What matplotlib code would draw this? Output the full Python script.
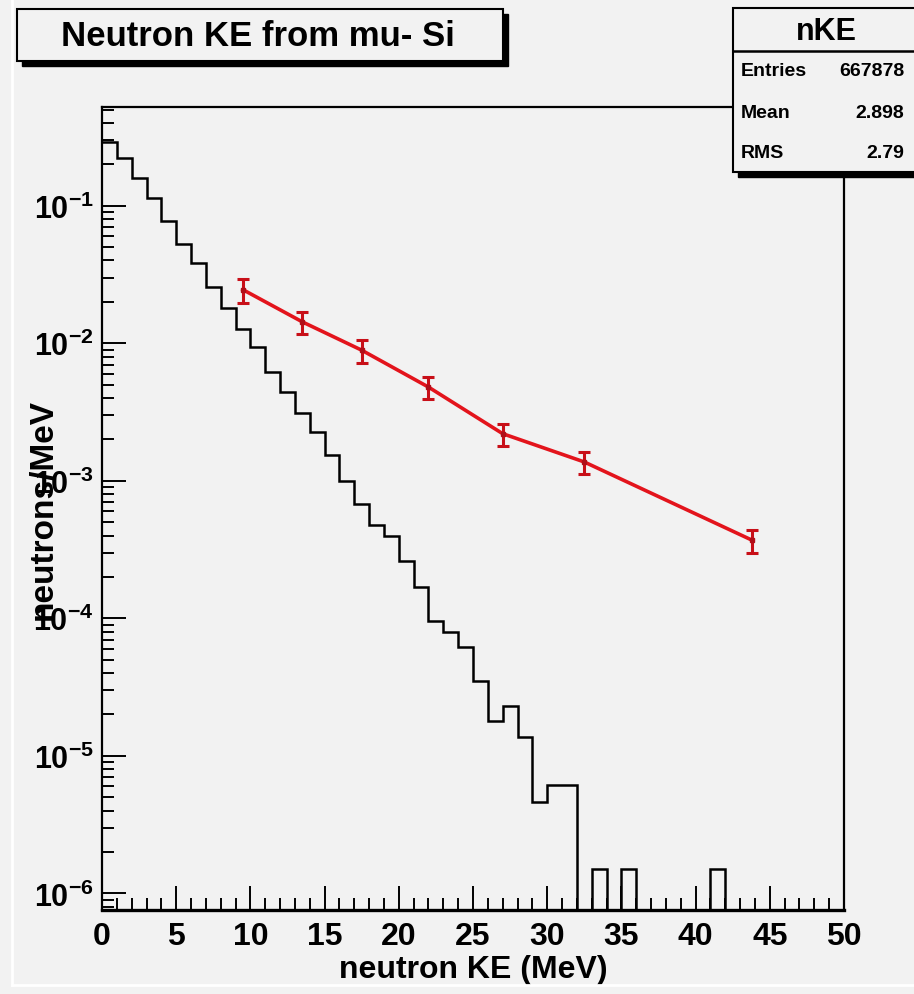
import numpy as np
import matplotlib
matplotlib.use("Agg")
import matplotlib.pyplot as plt
from matplotlib.patches import Rectangle
from matplotlib.lines import Line2D
from matplotlib.ticker import MultipleLocator, LogLocator, FuncFormatter, NullFormatter

plt.rcParams['font.family'] = ['Liberation Sans', 'DejaVu Sans']
plt.rcParams['font.weight'] = 'bold'
plt.rcParams['mathtext.fontset'] = 'custom'
plt.rcParams['mathtext.rm'] = 'Liberation Sans:bold'
plt.rcParams['mathtext.bf'] = 'Liberation Sans:bold'

# histogram: neutron KE spectrum, 1 MeV bins from 0 to 50 (neutrons/MeV)
bin_edges = np.arange(0, 51, 1)
spectrum = [0.29, 0.222, 0.159, 0.114, 0.078, 0.053, 0.038, 0.0256, 0.018, 0.0127,
            0.0094, 0.0062, 0.0044, 0.0031, 0.00226, 0.00153, 0.00100, 0.00068, 0.00048, 0.000396,
            0.00026, 0.000169, 9.6e-5, 7.9e-5, 6.2e-5, 3.5e-5, 1.8e-5, 2.3e-5, 1.37e-5, 4.6e-6,
            6.1e-6, 6.1e-6, 0, 1.5e-6, 0, 1.5e-6, 0, 0, 0, 0,
            0, 1.5e-6, 0, 0, 0, 0, 0, 0, 0, 0]

# red points with error bars
meas_ke = [9.5, 13.5, 17.5, 22.0, 27.0, 32.5, 43.8]
meas_val = [0.0245, 0.0143, 0.0089, 0.0048, 0.0022, 0.00137, 0.00037]
meas_err = [0.005, 0.0026, 0.0017, 0.0009, 0.0004, 0.00025, 0.00007]

stats_names = ["Entries", "Mean", "RMS"]
stats_vals = ["667878", "2.898", "2.79"]

W, H = 914, 995
bg = '#f2f2f2'

def fx(x):
    return x / W

def fy(y):
    return 1 - y / H

fig = plt.figure(figsize=(W / 100, H / 100), dpi=100, facecolor=bg)

ax = fig.add_axes([fx(102), fy(911), fx(844) - fx(102), fy(108) - fy(911)])
ax.set_facecolor(bg)
ax.set_yscale('log')
ax.set_xlim(0, 50)
ymin, ymax = 7.57e-7, 0.522
ax.set_ylim(ymin, ymax)

ax.stairs(np.clip(spectrum, ymin, None), bin_edges, color='black', lw=1.8, baseline=None, zorder=3)

ax.plot(meas_ke, meas_val, color='#e3141c', lw=2.6, zorder=4)
ax.errorbar(meas_ke, meas_val, yerr=meas_err, fmt='s', ms=3.5, color='#b00e18',
            ecolor='#c80f18', elinewidth=2.2, capsize=4, capthick=2.2, zorder=5)

for s in ['top', 'right', 'left', 'bottom']:
    ax.spines[s].set_linewidth(1.6)
ax.spines['bottom'].set_linewidth(2.4)

ax.xaxis.set_major_locator(MultipleLocator(5))
ax.xaxis.set_minor_locator(MultipleLocator(1))
ax.yaxis.set_major_locator(LogLocator(base=10, numticks=20))
ax.yaxis.set_minor_locator(LogLocator(base=10, subs=np.arange(2, 10), numticks=20))
ax.yaxis.set_minor_formatter(NullFormatter())
ax.yaxis.set_major_formatter(FuncFormatter(lambda v, p: r'$\mathbf{10^{%d}}$' % round(np.log10(v))))

ax.tick_params(which='both', direction='in', top=False, right=False, width=1.4)
ax.tick_params(which='major', length=17)
ax.tick_params(which='minor', length=8.5)
ax.tick_params(axis='x', which='major', labelsize=23, pad=8)
ax.tick_params(axis='y', which='major', labelsize=22, pad=6)

ax.set_xlabel('neutron KE (MeV)', fontsize=23, fontweight='bold', labelpad=2)
ax.set_ylabel('neutrons/MeV', fontsize=24, fontweight='bold')
ax.yaxis.set_label_coords(-0.058, 0.5)

# canvas bevel lines
fig.add_artist(Line2D([fx(12), fx(12)], [fy(0), fy(986)], color='white', lw=2))
fig.add_artist(Line2D([fx(12), fx(914)], [fy(986), fy(986)], color='white', lw=2))

# title box with shadow
fig.add_artist(Rectangle((fx(22), fy(67)), fx(486), fy(10) - fy(62), transform=fig.transFigure,
                         facecolor='black', edgecolor='black', zorder=10))
fig.add_artist(Rectangle((fx(17), fy(62)), fx(486), fy(10) - fy(62), transform=fig.transFigure,
                         facecolor=bg, edgecolor='black', lw=1.5, zorder=11))
fig.text(fx(258), fy(37), 'Neutron KE from mu- Si', ha='center', va='center',
         fontsize=25, fontweight='bold', zorder=12)

# stats box with shadow
fig.add_artist(Rectangle((fx(738), fy(178)), fx(200), fy(9) - fy(173), transform=fig.transFigure,
                         facecolor='black', edgecolor='black', zorder=10))
fig.add_artist(Rectangle((fx(733), fy(173)), fx(200), fy(9) - fy(173), transform=fig.transFigure,
                         facecolor=bg, edgecolor='black', lw=1.5, zorder=11))
fig.add_artist(Line2D([fx(733), fx(914)], [fy(52), fy(52)], color='black', lw=1.8, zorder=12))
fig.text(fx(826), fy(32), 'nKE', ha='center', va='center', fontsize=22, fontweight='bold', zorder=12)
for i, (nm, vl) in enumerate(zip(stats_names, stats_vals)):
    yy = [72, 113, 153][i]
    fig.text(fx(741), fy(yy), nm, ha='left', va='center', fontsize=14, fontweight='bold', zorder=12)
    fig.text(fx(904), fy(yy), vl, ha='right', va='center', fontsize=14, fontweight='bold', zorder=12)

fig.savefig('out.png', dpi=100, facecolor=bg)
